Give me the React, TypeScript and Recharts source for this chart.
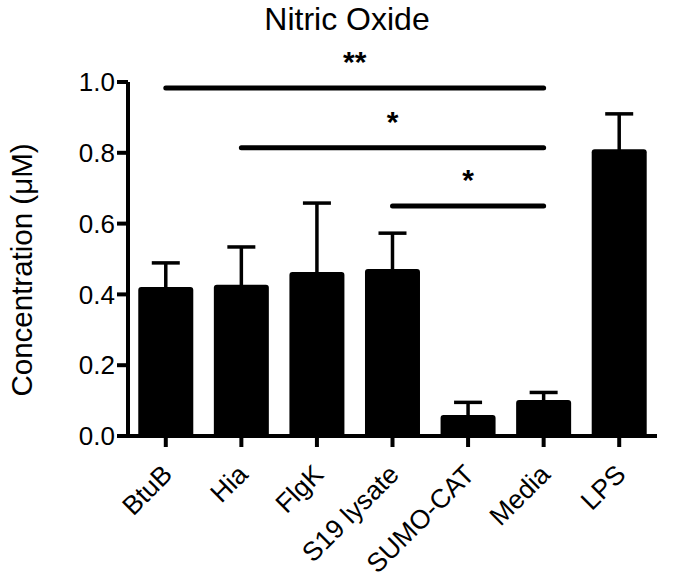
import React from 'react'
import { BarChart, Bar, XAxis, YAxis, ErrorBar, ReferenceLine } from 'recharts'

const categories = ['BtuB', 'Hia', 'FlgK', 'S19 lysate', 'SUMO-CAT', 'Media', 'LPS']
const means = [0.421, 0.427, 0.463, 0.472, 0.059, 0.102, 0.81]
const upperErrors = [0.068, 0.107, 0.195, 0.101, 0.036, 0.021, 0.1]
const yTicks = [0, 0.2, 0.4, 0.6, 0.8, 1.0]

// significance brackets: from, to, height, stars
const sigFrom = ['BtuB', 'Hia', 'S19 lysate']
const sigTo = ['Media', 'Media', 'Media']
const sigLevel = [0.983, 0.814, 0.65]
const sigStars = ['**', '*', '*']

const FONT = '"Liberation Sans", Arial, sans-serif'

const XTick = (props: any) => {
  const { x, y, payload } = props
  return (
    <text
      transform={`translate(${x + 8},${y + 27}) rotate(-45)`}
      textAnchor="end"
      fontSize={26.5}
      fontFamily={FONT}
      fill="#000"
    >
      {payload.value}
    </text>
  )
}

const YTitle = (props: any) => {
  const vb = props.viewBox || { y: 82, height: 354 }
  const cy = vb.y + vb.height / 2 + 11
  return (
    <text
      x={32}
      y={cy}
      transform={`rotate(-90, 32, ${cy})`}
      textAnchor="middle"
      fontSize={29.5}
      fontFamily={FONT}
      fill="#000"
    >
      Concentration (μM)
    </text>
  )
}

const App = () => {
  // lower whisker kept just inside the bar so only the upper one shows
  const data = categories.map((name, i) => ({
    name,
    mean: means[i],
    err: [0.012, upperErrors[i]],
  }))

  return (
    <div style={{ position: 'absolute', left: 0, top: 0, width: 673, height: 578, background: '#fff', fontFamily: FONT }}>
      <div
        style={{
          position: 'absolute',
          left: 347,
          top: 2,
          transform: 'translateX(-50%)',
          fontSize: 32,
          lineHeight: '34px',
          whiteSpace: 'nowrap',
          color: '#000',
        }}
      >
        Nitric Oxide
      </div>
      <BarChart
        width={673}
        height={578}
        data={data}
        margin={{ top: 82, right: 16, left: 0, bottom: 0 }}
        barCategoryGap="13.6%"
      >
        <XAxis
          dataKey="name"
          height={142}
          interval={0}
          axisLine={{ stroke: '#000', strokeWidth: 4 }}
          tickLine={{ stroke: '#000', strokeWidth: 4 }}
          tickSize={11}
          tick={<XTick />}
        />
        <YAxis
          width={128}
          domain={[0, 1]}
          ticks={yTicks}
          tickFormatter={(v: number) => v.toFixed(1)}
          axisLine={{ stroke: '#000', strokeWidth: 4 }}
          tickLine={{ stroke: '#000', strokeWidth: 4 }}
          tickSize={11}
          tickMargin={2}
          tick={{ fill: '#000', fontSize: 26, fontFamily: FONT }}
          label={<YTitle />}
        />
        <Bar dataKey="mean" fill="#000" radius={[3, 3, 0, 0]} isAnimationActive={false}>
          <ErrorBar dataKey="err" width={14} stroke="#000" strokeWidth={3.5} direction="y" />
        </Bar>
        {sigFrom.map((from, i) => (
          <ReferenceLine
            key={i}
            segment={[
              { x: from, y: sigLevel[i] },
              { x: sigTo[i], y: sigLevel[i] },
            ]}
            stroke="#000"
            strokeWidth={5}
            strokeLinecap="round"
            ifOverflow="visible"
            label={{
              value: sigStars[i],
              position: 'top',
              offset: 16,
              fontSize: 30,
              fontWeight: 'bold',
              fill: '#000',
              fontFamily: FONT,
            }}
          />
        ))}
      </BarChart>
    </div>
  )
}

export default App
